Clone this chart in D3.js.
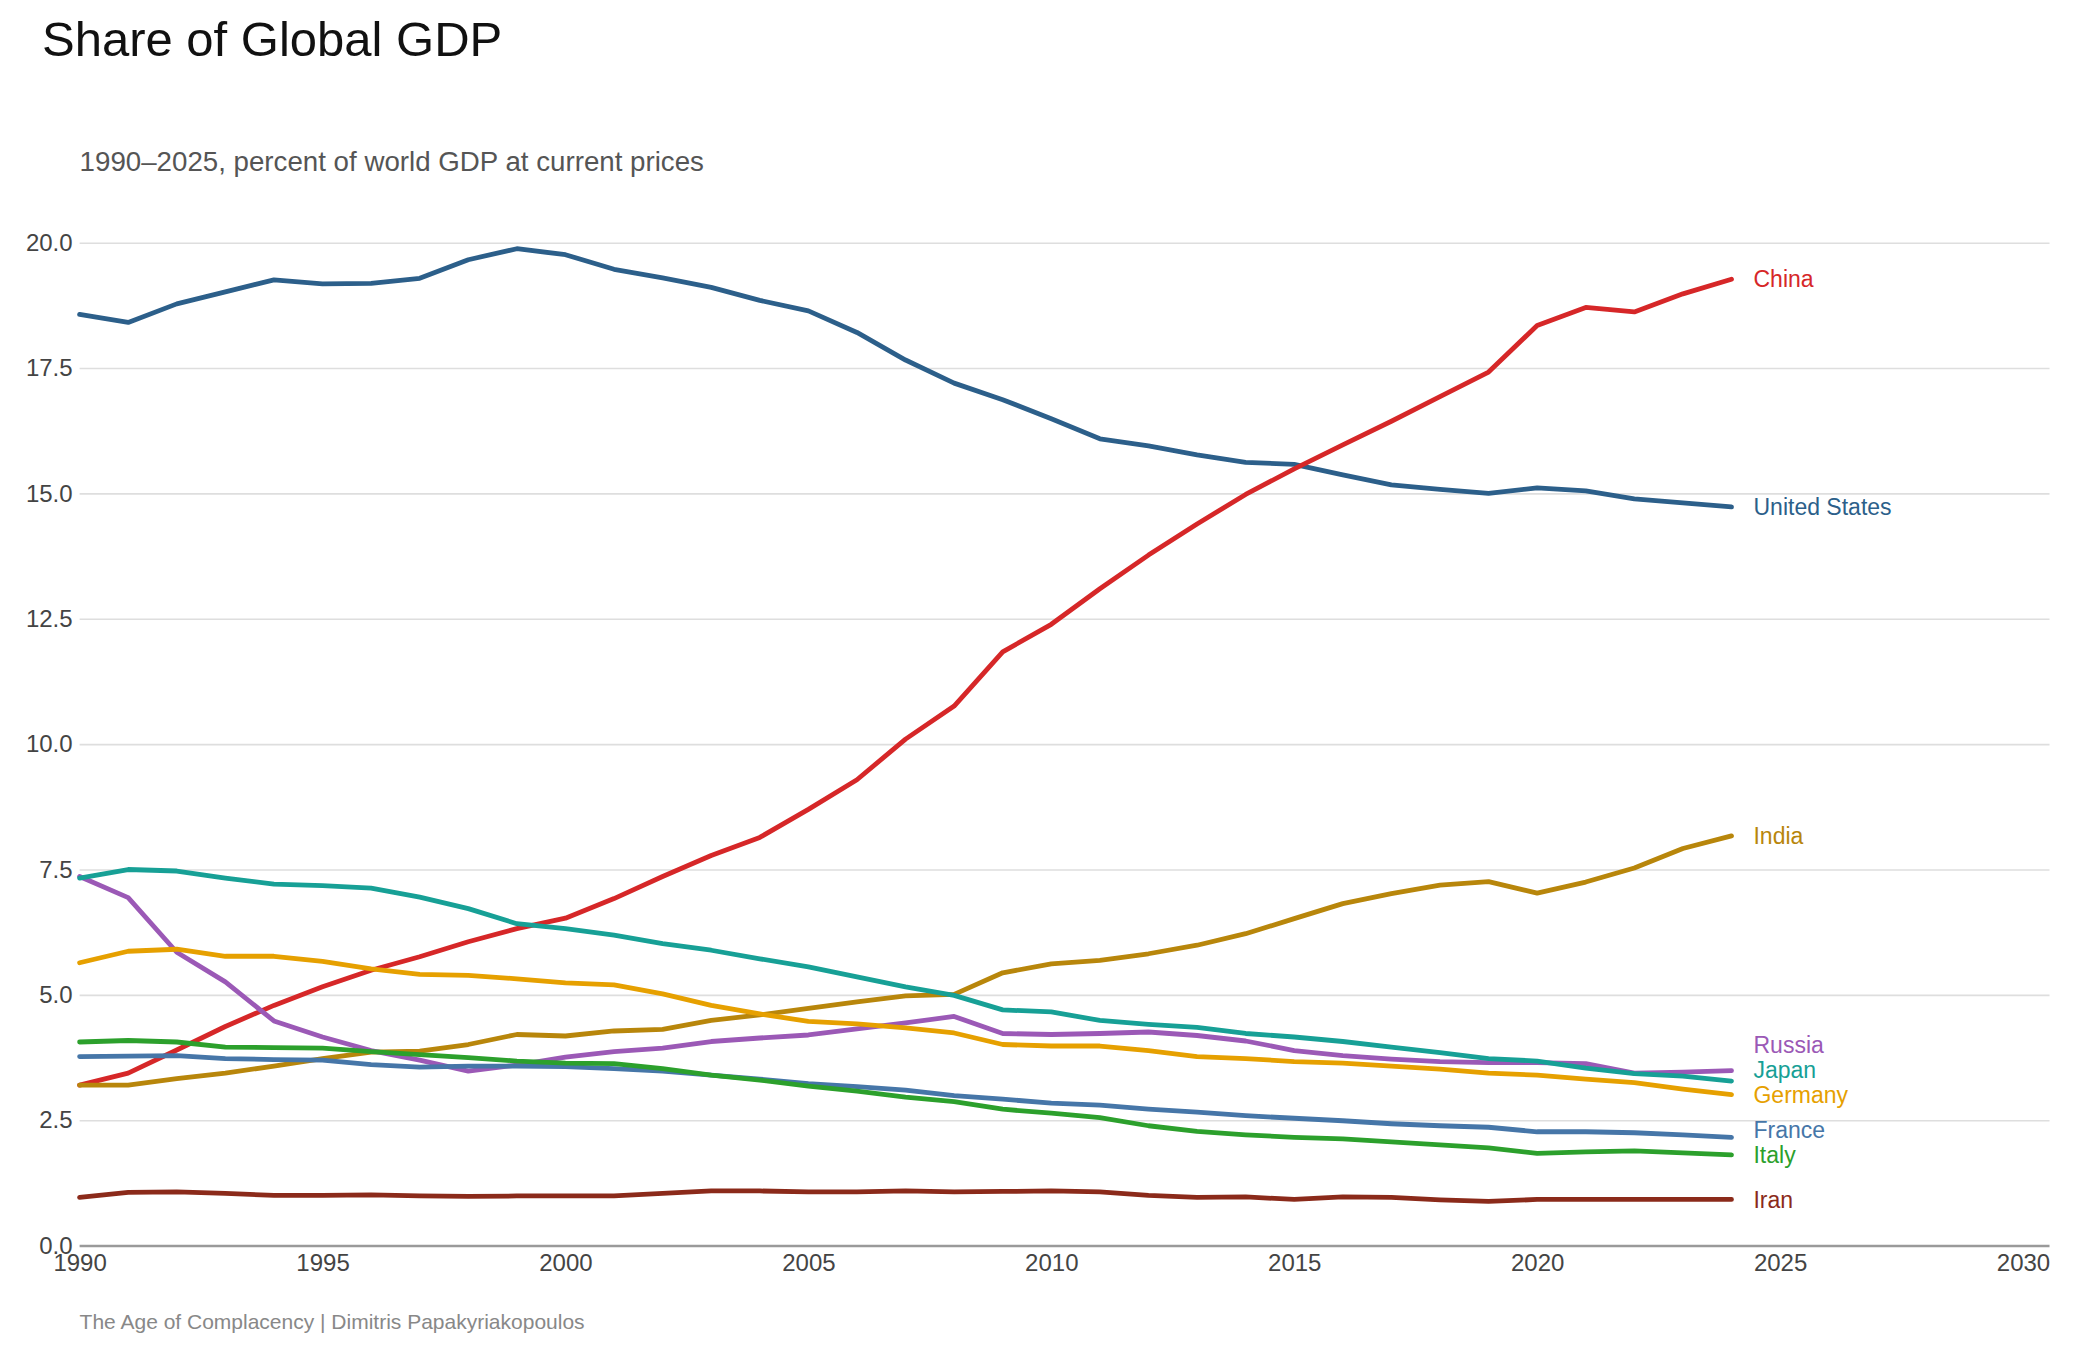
<!DOCTYPE html>
<html>
<head>
<meta charset="utf-8">
<script src="https://cdn.jsdelivr.net/npm/d3@7"></script>
<style>
  body { margin: 0; background: #fff; }
  svg { display: block; font-family: "Liberation Sans", Arial, sans-serif; }
</style>
</head>
<body>
<div id="chart"></div>
<script>
`use strict`;

// years 1990..2024, share of world GDP (%)
const years = d3.range(1990, 2025);

const unitedStates = [18.57, 18.41, 18.78, 19.02, 19.26, 19.18, 19.19, 19.29, 19.66, 19.88, 19.76, 19.47, 19.30, 19.11, 18.85, 18.64, 18.21, 17.66, 17.20, 16.87, 16.49, 16.09, 15.95, 15.77, 15.62, 15.58, 15.37, 15.17, 15.08, 15.00, 15.11, 15.05, 14.89, 14.81, 14.73];
const china = [3.20, 3.44, 3.90, 4.37, 4.79, 5.16, 5.49, 5.76, 6.06, 6.32, 6.53, 6.92, 7.36, 7.78, 8.14, 8.70, 9.29, 10.10, 10.76, 11.84, 12.39, 13.10, 13.77, 14.39, 14.98, 15.49, 15.97, 16.44, 16.93, 17.42, 18.35, 18.71, 18.62, 18.98, 19.27];
const india = [3.20, 3.20, 3.33, 3.44, 3.58, 3.73, 3.86, 3.88, 4.01, 4.21, 4.18, 4.28, 4.31, 4.49, 4.60, 4.73, 4.86, 4.98, 5.01, 5.44, 5.62, 5.69, 5.82, 5.99, 6.22, 6.52, 6.82, 7.02, 7.19, 7.26, 7.03, 7.25, 7.53, 7.92, 8.17];
const russia = [7.36, 6.94, 5.85, 5.26, 4.48, 4.16, 3.89, 3.70, 3.48, 3.60, 3.76, 3.87, 3.94, 4.07, 4.14, 4.20, 4.32, 4.44, 4.57, 4.23, 4.21, 4.23, 4.26, 4.19, 4.08, 3.89, 3.79, 3.72, 3.67, 3.65, 3.65, 3.63, 3.44, 3.46, 3.49];
const japan = [7.33, 7.50, 7.47, 7.33, 7.21, 7.18, 7.13, 6.95, 6.72, 6.42, 6.32, 6.19, 6.02, 5.89, 5.72, 5.56, 5.36, 5.16, 4.99, 4.70, 4.66, 4.49, 4.41, 4.35, 4.23, 4.16, 4.07, 3.96, 3.85, 3.73, 3.68, 3.54, 3.43, 3.38, 3.28];
const germany = [5.64, 5.87, 5.91, 5.77, 5.77, 5.67, 5.52, 5.41, 5.39, 5.32, 5.24, 5.20, 5.02, 4.79, 4.62, 4.47, 4.42, 4.34, 4.24, 4.01, 3.98, 3.98, 3.89, 3.77, 3.73, 3.67, 3.64, 3.58, 3.52, 3.44, 3.40, 3.32, 3.25, 3.12, 3.01];
const france = [3.77, 3.78, 3.79, 3.73, 3.71, 3.70, 3.61, 3.56, 3.58, 3.58, 3.57, 3.53, 3.48, 3.40, 3.32, 3.23, 3.17, 3.10, 2.99, 2.92, 2.84, 2.80, 2.72, 2.66, 2.59, 2.54, 2.49, 2.43, 2.39, 2.36, 2.27, 2.27, 2.25, 2.21, 2.16];
const italy = [4.06, 4.09, 4.06, 3.96, 3.95, 3.94, 3.87, 3.81, 3.75, 3.68, 3.64, 3.63, 3.53, 3.40, 3.30, 3.18, 3.08, 2.96, 2.87, 2.72, 2.64, 2.55, 2.39, 2.28, 2.21, 2.16, 2.13, 2.07, 2.01, 1.95, 1.84, 1.87, 1.89, 1.85, 1.81];
const iran = [0.96, 1.06, 1.07, 1.04, 1.00, 1.00, 1.01, 0.99, 0.98, 0.99, 0.99, 0.99, 1.04, 1.09, 1.09, 1.07, 1.07, 1.09, 1.07, 1.08, 1.09, 1.07, 1.00, 0.96, 0.97, 0.92, 0.97, 0.96, 0.91, 0.88, 0.92, 0.92, 0.92, 0.92, 0.92];

const countries = [`United States`, `China`, `India`, `Russia`, `Japan`, `Germany`, `France`, `Italy`, `Iran`];
const seriesValues = [unitedStates, china, india, russia, japan, germany, france, italy, iran];
const colors = [`#2c5f8a`, `#d62728`, `#b8860b`, `#9b59b6`, `#17a096`, `#e6a000`, `#4676a8`, `#2ca02c`, `#8b2a1a`];

const xTicks = [1990, 1995, 2000, 2005, 2010, 2015, 2020, 2025, 2030];
const yTicks = [0, 2.5, 5, 7.5, 10, 12.5, 15, 17.5, 20];

(function () {

  const W = 2080, H = 1360;

  const x = d3.scaleLinear().domain([1990, 2030]).range([79.6, 2023]);
  const y = d3.scaleLinear().domain([0, 20]).range([1245.6, 242.7]);
  const xRight = 2049.5;

  let svg = d3.select(`#chart`).append(`svg`)
    .attr(`width`, W)
    .attr(`height`, H);

  svg.append(`text`)
    .attr(`x`, 42).attr(`y`, 56)
    .style(`font-size`, `49px`)
    .attr(`fill`, `#111`)
    .text(`Share of Global GDP`);

  svg.append(`text`)
    .attr(`x`, 79.6).attr(`y`, 171)
    .style(`font-size`, `27.7px`)
    .attr(`fill`, `#555`)
    .text(`1990–2025, percent of world GDP at current prices`);

  // grid
  let yAxis = d3.axisLeft(y).tickValues(yTicks).tickFormat(d3.format(`.1f`))
    .tickSize(-(xRight - 79.6)).tickPadding(7);

  let gy = svg.append(`g`)
    .attr(`transform`, `translate(79.6,0)`)
    .call(yAxis);

  gy.select(`.domain`).remove();
  gy.selectAll(`.tick line`)
    .attr(`stroke`, d => d === 0 ? `#9a9a9a` : `#dedede`)
    .attr(`stroke-width`, d => d === 0 ? 2.5 : 1.6);
  gy.selectAll(`.tick text`)
    .style(`font-size`, `24px`)
    .style(`font-family`, `"Liberation Sans", Arial, sans-serif`)
    .attr(`fill`, `#444`);

  let xAxis = d3.axisBottom(x).tickValues(xTicks).tickFormat(d3.format(`d`))
    .tickSize(0).tickPadding(8);

  let gx = svg.append(`g`)
    .attr(`transform`, `translate(0,1245.6)`)
    .call(xAxis);

  gx.select(`.domain`).remove();
  gx.selectAll(`.tick text`)
    .style(`font-size`, `24px`)
    .style(`font-family`, `"Liberation Sans", Arial, sans-serif`)
    .attr(`fill`, `#444`);

  // lines
  let line = d3.line()
    .x((d, i) => x(years[i]))
    .y(d => y(d));

  svg.append(`g`).attr(`class`, `lines`)
    .selectAll(`path`).data(seriesValues)
    .enter()
    .append(`path`)
    .attr(`d`, line)
    .attr(`fill`, `none`)
    .attr(`stroke`, (d, i) => colors[i])
    .attr(`stroke-width`, 4.8)
    .attr(`stroke-linecap`, `round`)
    .attr(`stroke-linejoin`, `round`);

  // end labels, pushed apart from the bottom up
  let labels = countries.map((c, i) => {
    let v = seriesValues[i];
    return {name: c, color: colors[i], ly: y(v[v.length - 1])};
  });

  labels.sort((a, b) => b.ly - a.ly);
  for (let i = 1; i < labels.length; i++) {
    if (labels[i].ly > labels[i - 1].ly - 25) labels[i].ly = labels[i - 1].ly - 25;
  }

  svg.append(`g`).attr(`class`, `labels`)
    .selectAll(`text`).data(labels)
    .enter()
    .append(`text`)
    .attr(`x`, x(2024) + 22)
    .attr(`y`, d => d.ly)
    .attr(`dy`, `0.35em`)
    .style(`font-size`, `23px`)
    .attr(`fill`, d => d.color)
    .text(d => d.name);

  svg.append(`text`)
    .attr(`x`, 79.6).attr(`y`, 1329)
    .style(`font-size`, `21px`)
    .attr(`fill`, `#888`)
    .text(`The Age of Complacency | Dimitris Papakyriakopoulos`);

})();
</script>
</body>
</html>
